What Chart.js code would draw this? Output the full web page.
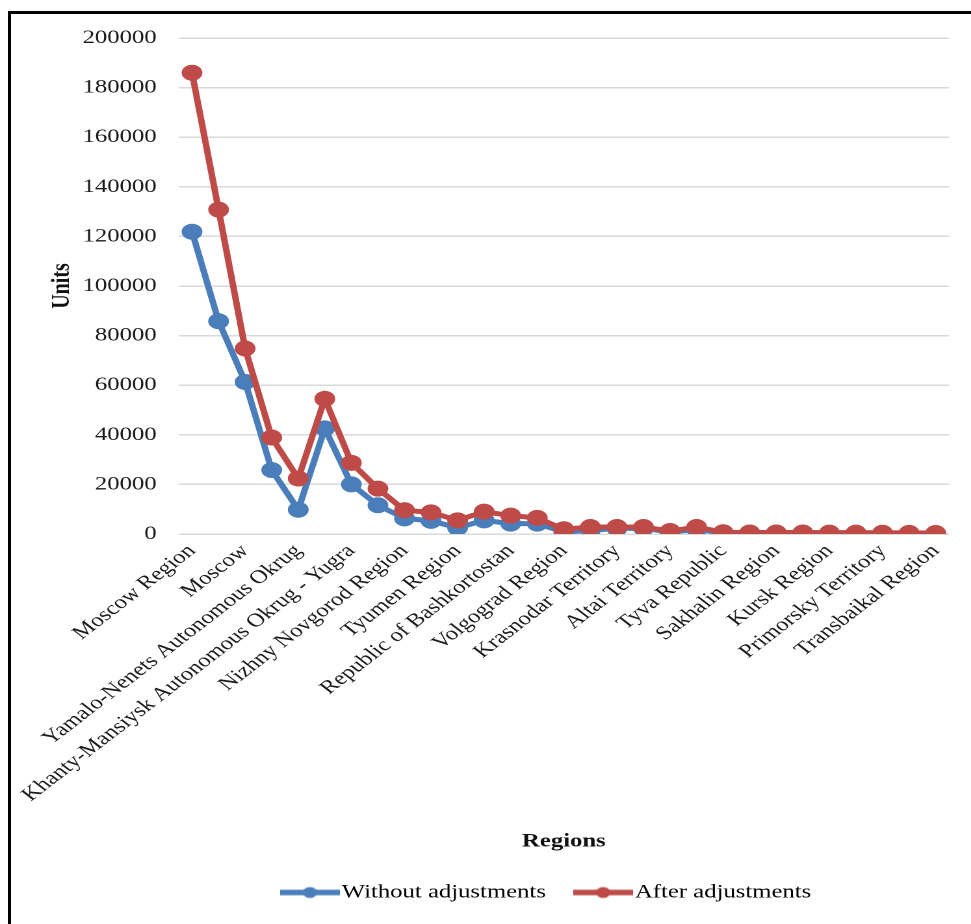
<!DOCTYPE html>
<html>
<head>
<meta charset="utf-8">
<script src="https://cdn.jsdelivr.net/npm/chart.js@4.4.1/dist/chart.umd.min.js"></script>
<style>
  html, body { margin: 0; padding: 0; background: #fff; overflow: hidden; }
  body { width: 971px; height: 924px; position: relative; }
  #frame {
    position: absolute; left: 8px; top: 11px; right: -10px; bottom: -10px;
    border: 3px solid #000;
  }
  /* chart is laid out narrow and widened to the page */
  #wrap {
    position: absolute; left: 0; top: 0; width: 747px; height: 924px;
    transform: scaleX(1.2999); transform-origin: 0 0;
  }
</style>
</head>
<body>
<div id="frame"></div>
<div id="wrap"><canvas id="regionsChart"></canvas></div>
<script>
// every other region is labelled on the axis
const regionLabels = [
    'Moscow Region', '', 'Moscow', '', 'Yamalo-Nenets Autonomous Okrug', '',
    'Khanty-Mansiysk Autonomous Okrug - Yugra', '', 'Nizhny Novgorod Region', '',
    'Tyumen Region', '', 'Republic of Bashkortostan', '', 'Volgograd Region', '',
    'Krasnodar Territory', '', 'Altai Territory', '', 'Tyva Republic', '',
    'Sakhalin Region', '', 'Kursk Region', '', 'Primorsky Territory', '',
    'Transbaikal Region'
];
const withoutAdjustments = [
    121900, 85800, 61300, 25800, 9800, 42600, 20000, 11600, 6300, 5300,
    2500, 5500, 4200, 4200, 800, 1500, 2200, 2300, 800, 1800,
    500, 400, 400, 350, 350, 300, 250, 200, 150
];
const afterAdjustments = [
    186000, 130800, 74800, 38900, 22400, 54500, 28700, 18300, 9600, 8700,
    5500, 9000, 7400, 6500, 1900, 2800, 2800, 2800, 1200, 2800,
    700, 600, 600, 600, 550, 550, 500, 450, 400
];
const yMin = 0;
const yMax = 200000;
const yStep = 20000;

const seriesNames = ['Without adjustments', 'After adjustments'];
const blue = '#4a7ebb';
const red = '#be4b48';
const serif = '"Liberation Serif", "Times New Roman", serif';

// legend marker: short line with a dot in the middle
function legendMarker(color) {
    const c = document.createElement('canvas');
    c.width = 46;
    c.height = 12;
    const g = c.getContext('2d');
    g.strokeStyle = color;
    g.lineWidth = 5.5;
    g.beginPath();
    g.moveTo(0, 6);
    g.lineTo(46, 6);
    g.stroke();
    g.fillStyle = color;
    g.beginPath();
    g.arc(23, 6, 5.5, 0, Math.PI * 2);
    g.fill();
    return c;
}

// nudge the legend row a little left of the plot centre
const legendShift = {
    id: 'legendShift',
    afterLayout: function (chart) {
        if (chart.legend) {
            chart.legend.left -= 10;
            chart.legend.right -= 10;
        }
    }
};

const ctx = document.getElementById('regionsChart');
new Chart(ctx, {
    type: 'line',
    data: {
        labels: regionLabels,
        datasets: [
            {
                label: seriesNames[0],
                data: withoutAdjustments,
                borderColor: blue,
                backgroundColor: blue,
                borderWidth: 5,
                pointRadius: 5.5,
                pointHoverRadius: 5.5,
                order: 1
            },
            {
                label: seriesNames[1],
                data: afterAdjustments,
                borderColor: red,
                backgroundColor: red,
                borderWidth: 5,
                pointRadius: 5.5,
                pointHoverRadius: 5.5,
                order: 0
            }
        ]
    },
    options: {
        responsive: true,
        maintainAspectRatio: false,
        devicePixelRatio: 2,
        animation: false,
        layout: {
            padding: { top: 38, left: 0, right: 17, bottom: 12 }
        },
        scales: {
            x: {
                offset: true,
                grid: { display: false, drawTicks: false },
                border: { display: false },
                ticks: {
                    autoSkip: false,
                    maxRotation: 45,
                    minRotation: 45,
                    padding: 6,
                    color: '#1a1a1a',
                    font: { family: serif, size: 19 }
                },
                title: {
                    display: true,
                    text: 'Regions',
                    color: '#111',
                    font: { family: serif, size: 19, weight: 'bold' },
                    padding: { top: 4, bottom: 1 }
                },
                afterFit: function (scale) {
                    scale.height = 320;
                }
            },
            y: {
                min: yMin,
                max: yMax,
                grid: { color: '#d9d9d9', lineWidth: 1.5, drawTicks: false },
                border: { display: false },
                ticks: {
                    stepSize: yStep,
                    padding: 17,
                    color: '#1a1a1a',
                    font: { family: serif, size: 19 },
                    callback: function (value) {
                        return String(value);
                    }
                },
                title: {
                    display: true,
                    text: 'Units',
                    color: '#111',
                    font: { family: serif, size: 20, weight: 'bold' },
                    padding: { top: 36, bottom: 0 }
                },
                afterFit: function (scale) {
                    scale.width = 137.5;
                }
            }
        },
        plugins: {
            legend: {
                position: 'bottom',
                fullSize: false,
                labels: {
                    usePointStyle: true,
                    pointStyleWidth: 30,
                    padding: 29,
                    color: '#111',
                    font: { family: serif, size: 19 },
                    generateLabels: function (chart) {
                        return chart.data.datasets.map(function (ds, i) {
                            return {
                                text: ds.label,
                                fillStyle: ds.borderColor,
                                strokeStyle: ds.borderColor,
                                lineWidth: 0,
                                pointStyle: legendMarker(ds.borderColor),
                                hidden: false,
                                datasetIndex: i
                            };
                        });
                    }
                }
            },
            tooltip: { enabled: false }
        }
    },
    plugins: [legendShift]
});
</script>
</body>
</html>
